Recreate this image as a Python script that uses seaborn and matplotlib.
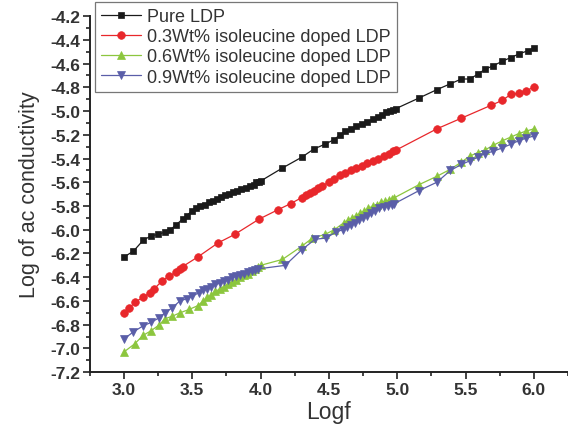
import matplotlib
matplotlib.use("Agg")
import matplotlib.pyplot as plt
from matplotlib.ticker import MultipleLocator, FormatStrFormatter
import seaborn as sns
import pandas as pd

# ---- data ----
pure_x = [3.00, 3.07, 3.14, 3.20, 3.25, 3.30, 3.34, 3.38, 3.43, 3.46, 3.50, 3.53, 3.56, 3.59,
          3.62, 3.65, 3.68, 3.71, 3.74, 3.77, 3.80, 3.83, 3.86, 3.89, 3.92, 3.95, 3.97, 3.99,
          4.00, 4.16, 4.30, 4.39, 4.47, 4.54, 4.58, 4.62, 4.66, 4.70, 4.74, 4.78, 4.82, 4.86,
          4.89, 4.92, 4.95, 4.97, 4.99, 5.16, 5.29, 5.39, 5.47, 5.53, 5.59, 5.64, 5.70, 5.77,
          5.83, 5.89, 5.96, 6.00]
pure_y = [-6.23, -6.18, -6.09, -6.05, -6.04, -6.02, -6.00, -5.96, -5.91, -5.88, -5.84, -5.82,
          -5.80, -5.79, -5.77, -5.76, -5.74, -5.72, -5.71, -5.70, -5.68, -5.67, -5.66, -5.65,
          -5.63, -5.62, -5.60, -5.60, -5.59, -5.48, -5.39, -5.32, -5.28, -5.24, -5.20, -5.17,
          -5.15, -5.13, -5.11, -5.09, -5.07, -5.05, -5.03, -5.01, -5.00, -4.99, -4.98, -4.89,
          -4.82, -4.77, -4.73, -4.73, -4.69, -4.65, -4.62, -4.58, -4.55, -4.52, -4.49, -4.47]

d03_x = [3.00, 3.04, 3.08, 3.14, 3.19, 3.22, 3.28, 3.33, 3.38, 3.41, 3.43, 3.54, 3.69, 3.81,
         3.99, 4.13, 4.22, 4.30, 4.33, 4.36, 4.39, 4.42, 4.45, 4.50, 4.54, 4.58, 4.62, 4.66,
         4.70, 4.74, 4.78, 4.82, 4.86, 4.90, 4.94, 4.97, 4.99, 5.29, 5.47, 5.69, 5.77, 5.83,
         5.89, 5.94, 6.00]
d03_y = [-6.70, -6.66, -6.61, -6.57, -6.53, -6.50, -6.43, -6.39, -6.36, -6.33, -6.31, -6.23,
         -6.11, -6.04, -5.91, -5.83, -5.78, -5.73, -5.71, -5.69, -5.67, -5.65, -5.63, -5.60,
         -5.57, -5.54, -5.52, -5.50, -5.48, -5.46, -5.44, -5.42, -5.40, -5.38, -5.36, -5.34,
         -5.33, -5.15, -5.06, -4.95, -4.91, -4.86, -4.85, -4.83, -4.80]

d06_x = [3.00, 3.08, 3.14, 3.20, 3.26, 3.30, 3.35, 3.41, 3.48, 3.54, 3.58, 3.61, 3.64, 3.67,
         3.70, 3.73, 3.76, 3.79, 3.82, 3.85, 3.88, 3.91, 3.94, 3.96, 3.98, 4.00, 4.16, 4.30,
         4.38, 4.47, 4.54, 4.61, 4.64, 4.67, 4.70, 4.73, 4.76, 4.79, 4.82, 4.85, 4.88, 4.91,
         4.94, 4.96, 4.98, 5.16, 5.29, 5.39, 5.47, 5.53, 5.59, 5.64, 5.70, 5.77, 5.83, 5.89,
         5.94, 6.00]
d06_y = [-7.03, -6.96, -6.89, -6.85, -6.80, -6.75, -6.73, -6.70, -6.67, -6.64, -6.60, -6.57,
         -6.55, -6.52, -6.50, -6.48, -6.46, -6.44, -6.42, -6.40, -6.38, -6.37, -6.35, -6.33,
         -6.31, -6.30, -6.25, -6.14, -6.07, -6.04, -6.00, -5.94, -5.92, -5.90, -5.88, -5.86,
         -5.84, -5.82, -5.80, -5.79, -5.77, -5.76, -5.75, -5.74, -5.73, -5.62, -5.55, -5.49,
         -5.43, -5.38, -5.35, -5.33, -5.29, -5.25, -5.22, -5.19, -5.17, -5.15]

d09_x = [3.00, 3.07, 3.14, 3.20, 3.26, 3.30, 3.35, 3.41, 3.46, 3.50, 3.55, 3.58, 3.61, 3.64,
         3.67, 3.70, 3.73, 3.76, 3.79, 3.82, 3.85, 3.88, 3.91, 3.94, 3.96, 3.98, 4.18, 4.30,
         4.40, 4.48, 4.55, 4.60, 4.63, 4.66, 4.69, 4.72, 4.75, 4.78, 4.81, 4.84, 4.87, 4.90,
         4.93, 4.96, 4.98, 5.16, 5.29, 5.39, 5.47, 5.53, 5.59, 5.64, 5.70, 5.77, 5.83, 5.89,
         5.94, 6.00]
d09_y = [-6.92, -6.86, -6.81, -6.78, -6.74, -6.70, -6.66, -6.60, -6.58, -6.56, -6.53, -6.51,
         -6.50, -6.48, -6.46, -6.45, -6.43, -6.42, -6.40, -6.39, -6.38, -6.37, -6.36, -6.35,
         -6.34, -6.33, -6.30, -6.17, -6.08, -6.07, -6.02, -6.00, -5.98, -5.96, -5.94, -5.92,
         -5.90, -5.88, -5.86, -5.84, -5.82, -5.81, -5.80, -5.79, -5.78, -5.67, -5.60, -5.50,
         -5.45, -5.42, -5.39, -5.36, -5.34, -5.31, -5.28, -5.25, -5.23, -5.21]

labels = ["Pure LDP", "0.3Wt% isoleucine doped LDP",
          "0.6Wt% isoleucine doped LDP", "0.9Wt% isoleucine doped LDP"]
x_ticks = [3.0, 3.5, 4.0, 4.5, 5.0, 5.5, 6.0]
y_ticks = [-7.2, -7.0, -6.8, -6.6, -6.4, -6.2, -6.0, -5.8, -5.6, -5.4, -5.2, -5.0,
           -4.8, -4.6, -4.4, -4.2]

# ---- style ----
sns.set_theme(style="ticks")
plt.rcParams["font.family"] = ["Liberation Sans", "DejaVu Sans"]

fig = plt.figure(figsize=(5.68, 4.27), dpi=100)
ax = fig.add_axes([0.158, 0.126, 0.842, 0.834])

series = [
    (pure_x, pure_y, "#1a1a1a", "s", 5.0),
    (d03_x, d03_y, "#e8272b", "o", 5.5),
    (d06_x, d06_y, "#8cc63e", "^", 6.0),
    (d09_x, d09_y, "#5a5ea8", "v", 6.0),
]
for (xs, ys, col, mk, ms), lab in zip(series, labels):
    df = pd.DataFrame({"x": xs, "y": ys})
    sns.lineplot(data=df, x="x", y="y", ax=ax, sort=False, color=col, marker=mk,
                 markersize=ms, markeredgecolor=col, markeredgewidth=0.5,
                 linewidth=0.9, label=lab)

ax.set_xlim(2.75, 6.25)
ax.set_ylim(-7.2, -4.2)
ax.set_xticks(x_ticks)
ax.set_yticks(y_ticks)
ax.xaxis.set_minor_locator(MultipleLocator(0.25))
ax.yaxis.set_minor_locator(MultipleLocator(0.1))
ax.xaxis.set_major_formatter(FormatStrFormatter("%.1f"))
ax.yaxis.set_major_formatter(FormatStrFormatter("%.1f"))
ax.tick_params(axis="both", which="major", direction="out", length=5, width=1.2,
               labelsize=12.5, colors="#222222", pad=2)
ax.tick_params(axis="both", which="minor", direction="out", length=3, width=1.2,
               colors="#222222")
for lbl in ax.get_xticklabels() + ax.get_yticklabels():
    lbl.set_fontweight("bold")
    lbl.set_color("#333333")

for side in ["top", "right"]:
    ax.spines[side].set_visible(False)
for side in ["left", "bottom"]:
    ax.spines[side].set_color("#222222")
    ax.spines[side].set_linewidth(1.4)

ax.set_xlabel("Logf", fontsize=16.5, color="#333333", labelpad=2)
ax.set_ylabel("Log of ac conductivity", fontsize=15.5, color="#333333", labelpad=7)

leg = ax.legend(loc="upper left", bbox_to_anchor=(95 / 568, 1 - 3 / 427),
                bbox_transform=fig.transFigure, fontsize=13, frameon=True,
                fancybox=False, edgecolor="#777777", framealpha=1,
                handlelength=2.2, labelspacing=0.17, borderpad=0.35,
                handletextpad=0.33, borderaxespad=0)
leg.get_frame().set_linewidth(0.9)
for t in leg.get_texts():
    t.set_color("#333333")

fig.savefig("out.png", dpi=100)
